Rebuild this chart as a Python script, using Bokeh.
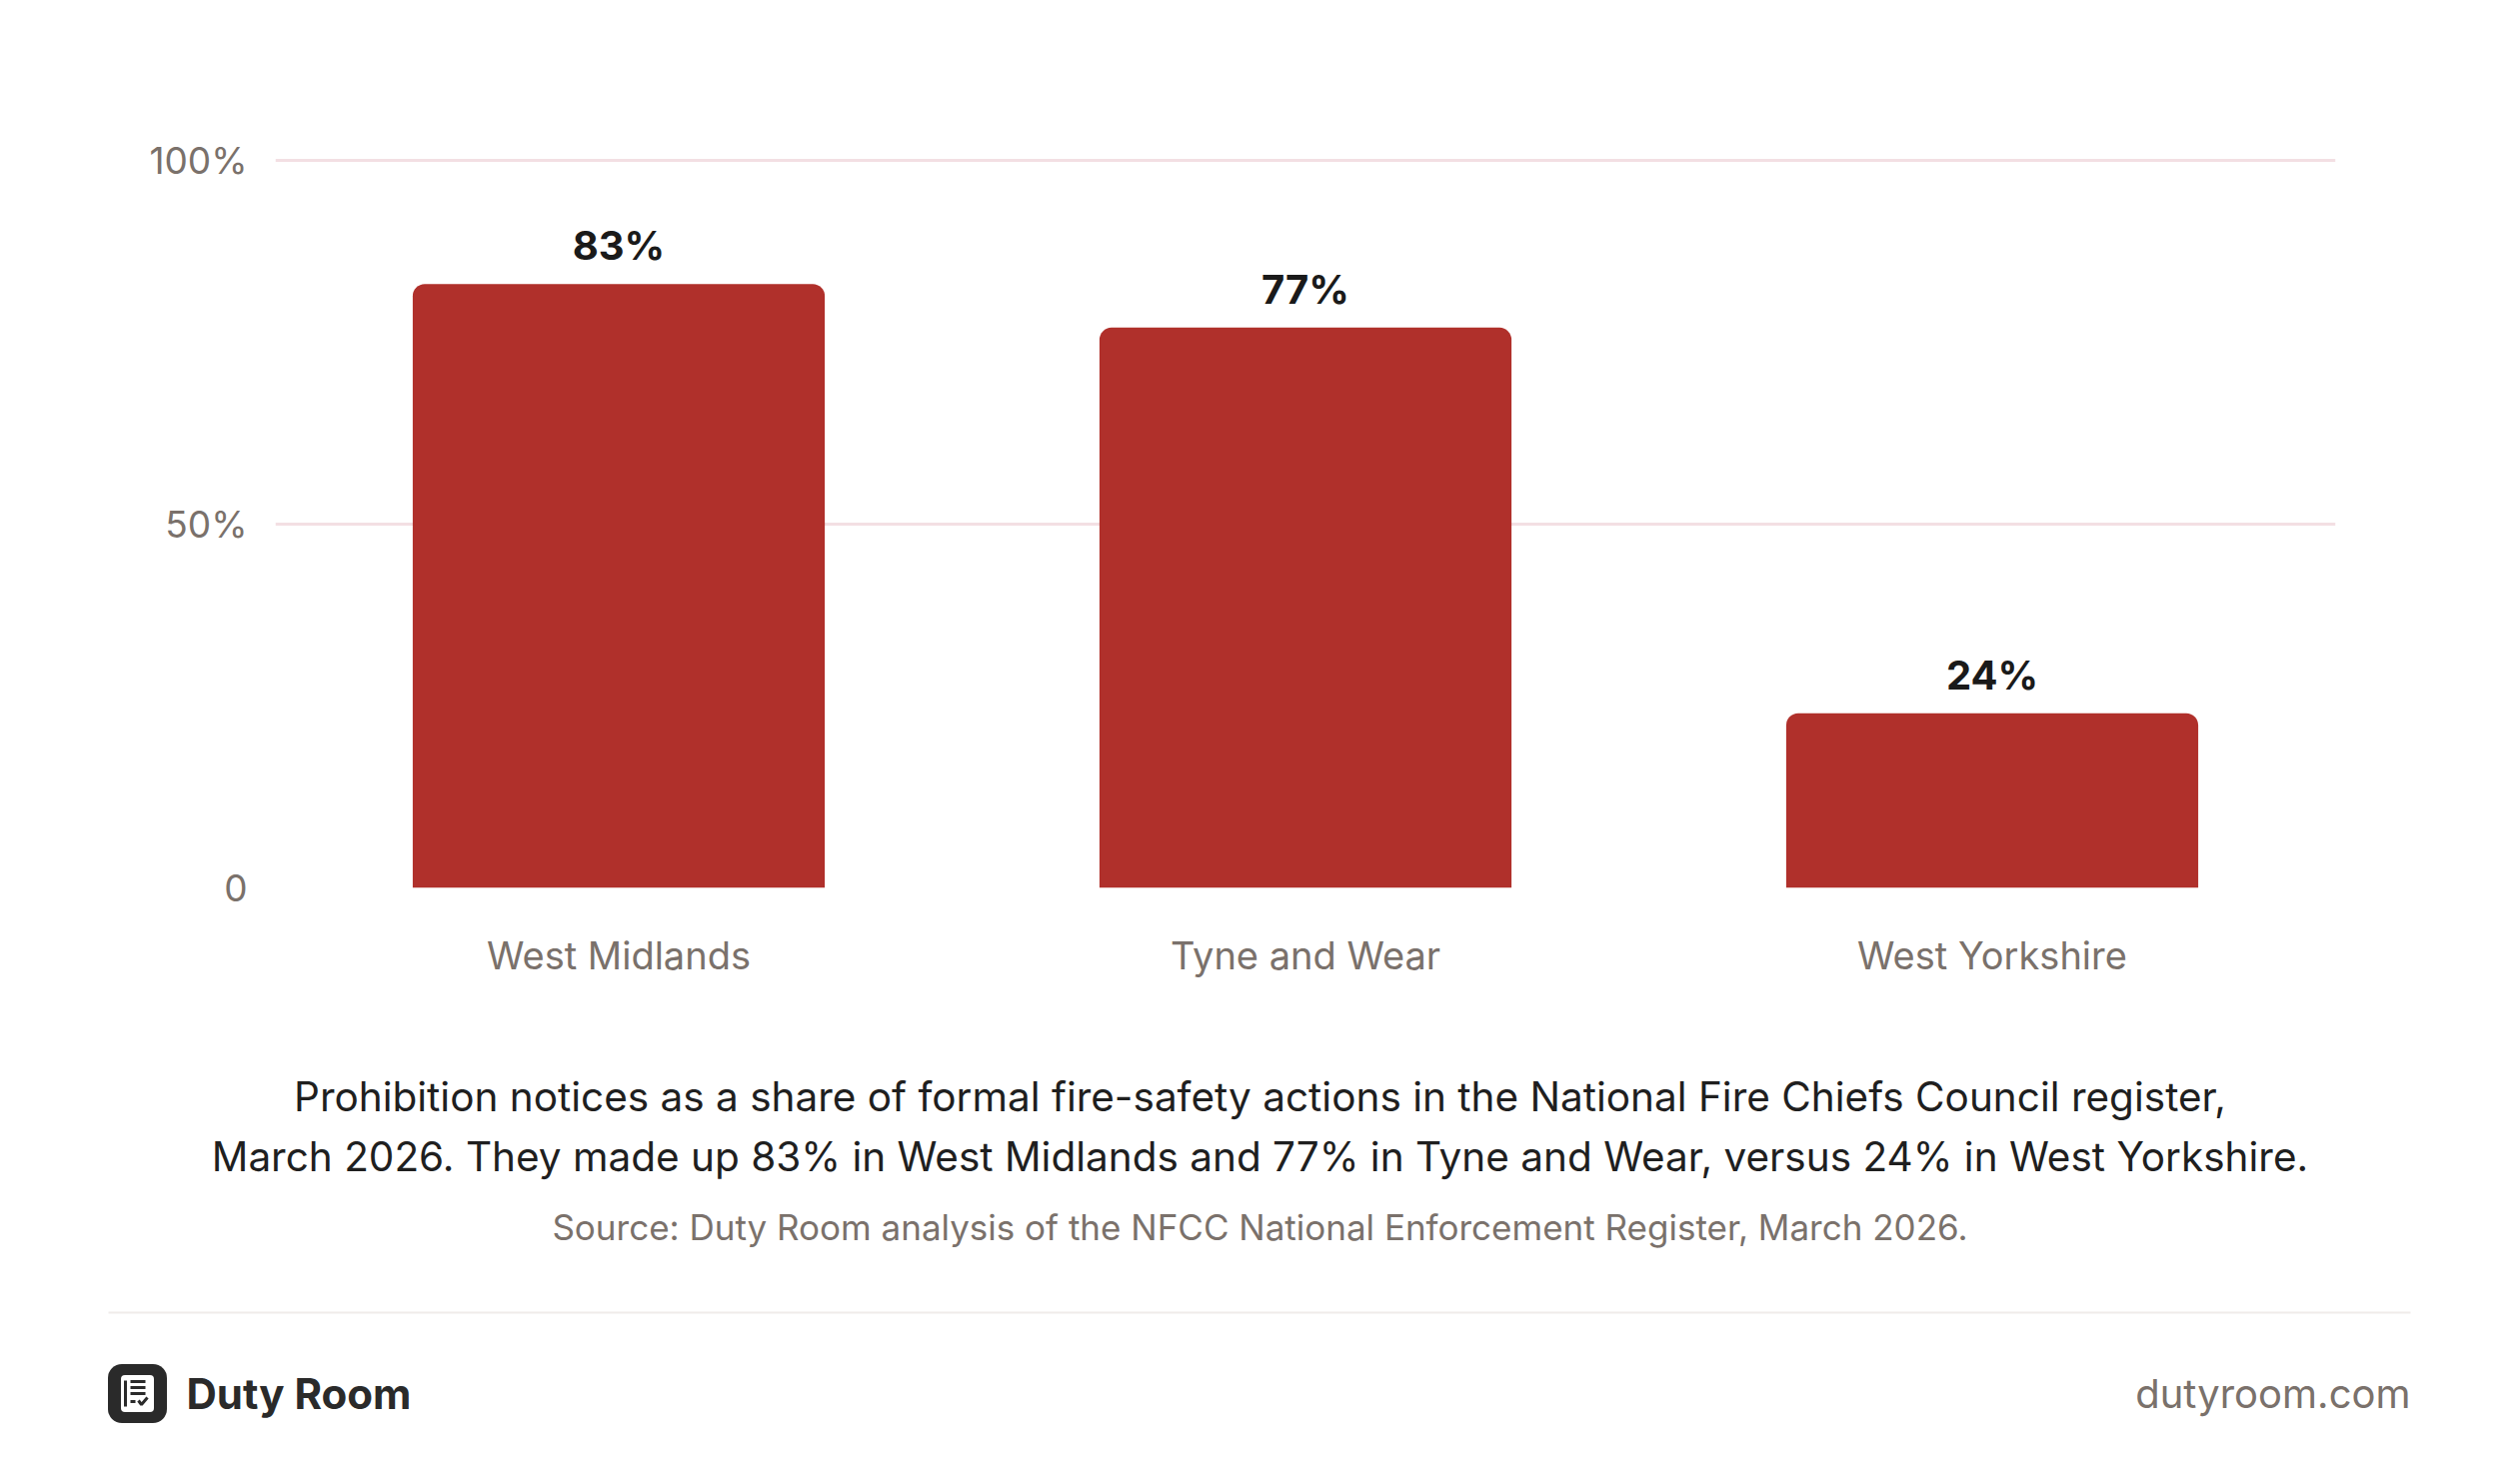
from bokeh.plotting import figure
from bokeh.layouts import column, row
from bokeh.models import FixedTicker, CustomJSTickFormatter, ColumnDataSource, Range1d
from bokeh.core.properties import value
from bokeh.embed import file_html
from bokeh.resources import INLINE

regions = ["West Midlands", "Tyne and Wear", "West Yorkshire"]
shares = [83, 77, 24]
share_labels = ["83%", "77%", "24%"]
ticks = [0, 50, 100]
tick_labels = {0: "0", 50: "50%", 100: "100%"}
caption = ["Prohibition notices as a share of formal fire-safety actions in the National Fire Chiefs Council register,",
           "March 2026. They made up 83% in West Midlands and 77% in Tyne and Wear, versus 24% in West Yorkshire."]
source_note = "Source: Duty Room analysis of the NFCC National Enforcement Register, March 2026."
brand = "Duty Room"
site = "dutyroom.com"

W = 2504
H1 = 1032
H2 = 437
FONT = value("Inter")

p = figure(width=W, height=H1, x_range=regions, y_range=(0, 100.4),
           output_backend="svg", toolbar_location=None,
           min_border_left=275, min_border_right=168, min_border_top=157,
           min_border_bottom=144)
p.outline_line_color = None
p.xgrid.grid_line_color = None
p.ygrid.grid_line_color = "#f3dfe3"
p.ygrid.grid_line_width = 3
p.yaxis.ticker = FixedTicker(ticks=ticks)
p.yaxis.formatter = CustomJSTickFormatter(args=dict(m={str(k): v for k, v in tick_labels.items()}),
                                          code="return m[String(tick)];")
for ax in (p.xaxis, p.yaxis):
    ax.axis_line_color = None
    ax.major_tick_line_color = None
    ax.minor_tick_line_color = None
    ax.major_label_text_font = "Inter"
    ax.major_label_text_color = "#7a716b"
p.yaxis.major_label_text_font_size = "37px"
p.xaxis.major_label_text_font_size = "38px"
p.yaxis.major_label_standoff = 22
p.xaxis.major_label_standoff = 38

src = ColumnDataSource(dict(x=regions, top=shares, lab=share_labels))
p.vbar(x="x", top="top", width=0.6, source=src, fill_color="#b0302b",
       line_color=None, border_radius=(12, 12, 0, 0))
p.text(x="x", y="top", text="lab", source=src, text_align="center",
       text_baseline="bottom", y_offset=-14, text_font=FONT,
       text_font_size="40px", text_font_style="bold", text_color="#1a1a1a")

f = figure(width=W, height=H2, x_range=Range1d(0, W), y_range=Range1d(0, H2),
           output_backend="svg", toolbar_location=None,
           x_axis_type=None, y_axis_type=None,
           min_border=0, min_border_left=0, min_border_right=0,
           min_border_top=0, min_border_bottom=0)
f.grid.visible = False
f.outline_line_color = None

TOP = 1034
def Y(yfull):
    return H2 - (yfull - TOP)

def t(x, y, text, size, color, align="center", bold=False):
    f.text(x=[x], y=[Y(y)], text=[text], text_font=FONT, text_font_size=size,
           text_color=color, text_align=align, text_baseline="middle",
           text_font_style="bold" if bold else "normal")

X0 = 0
t(1260, 1099, caption[0], "40.5px", "#1f1f1f")
t(1260, 1159, caption[1], "40.5px", "#1f1f1f")
t(1260, 1229, source_note, "35px", "#7a716b")
f.segment(x0=[108 + X0], x1=[2411 + X0], y0=[Y(1315)], y1=[Y(1315)], line_color="#f0ecea", line_width=2)
t(186 + X0, 1396, brand, "42px", "#2a2a2a", align="left", bold=True)
t(2411 + X0, 1396, site, "40px", "#7a716b", align="right")
# logo
LX = 137 + X0
f.rect(x=[LX], y=[Y(1396)], width=59, height=59, fill_color="#2a2a2a", line_color=None, border_radius=14)
f.rect(x=[LX], y=[Y(1396)], width=33, height=37, fill_color="white", line_color=None, border_radius=4)
f.segment(x0=[LX - 12, LX - 7, LX - 7, LX - 7, LX - 7], x1=[LX - 12, LX + 8, LX + 8, LX + 8, LX - 2],
          y0=[Y(1383), Y(1384), Y(1390), Y(1396), Y(1404)],
          y1=[Y(1409), Y(1384), Y(1390), Y(1396), Y(1404)],
          line_color="#2a2a2a", line_width=3)
f.line(x=[LX + 1, LX + 4, LX + 10], y=[Y(1403), Y(1407), Y(1400)], line_color="#2a2a2a", line_width=3)

open("out.html", "w").write(file_html(column(p, row(f), spacing=0), INLINE))
